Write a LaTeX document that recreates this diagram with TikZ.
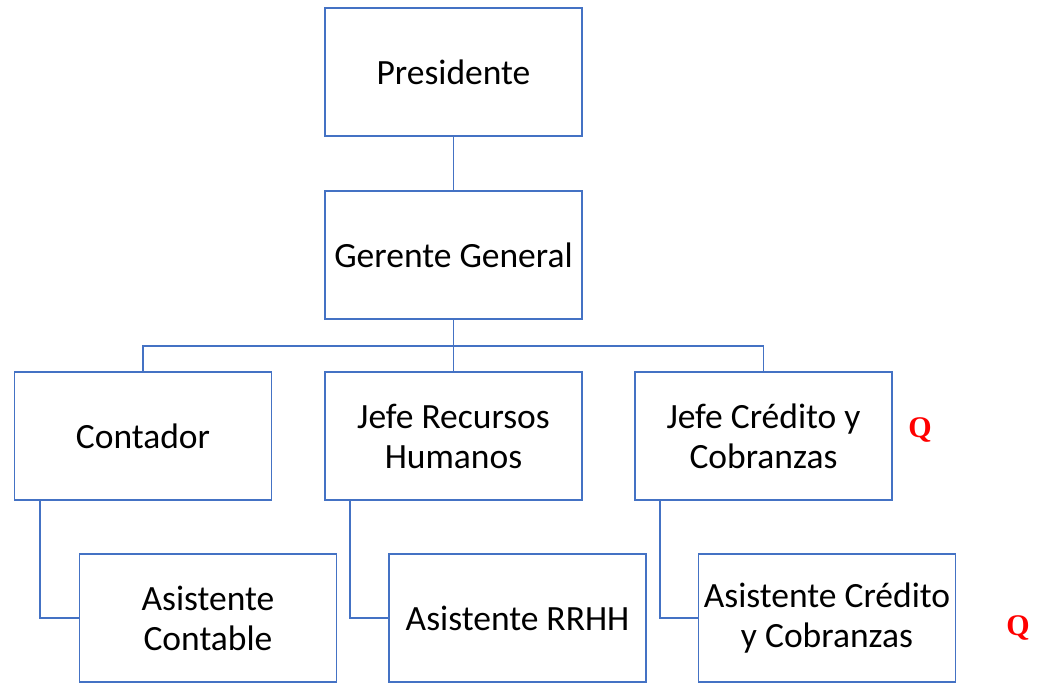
\documentclass[tikz,border=0pt]{standalone}
\usepackage{fontspec}
\setmainfont{Carlito}
\newfontfamily\qfont{Liberation Serif}
\definecolor{lineblue}{HTML}{4472C4}
\begin{document}
\begin{tikzpicture}[x=1pt,y=-1pt,
  box/.style={draw=lineblue, line width=1.6pt, line join=miter, fill=white, minimum width=257pt, minimum height=128pt, inner sep=0pt, align=center, font=\fontsize{35.5}{40}\selectfont, text=black},
  conn/.style={draw=lineblue, line width=1.6pt},
  qlabel/.style={text=red, font=\qfont\bfseries\fontsize{30}{30}\selectfont}]
\useasboundingbox (0,0) rectangle (1039,683);
\node[box] (pres) at (453.5,72) {Presidente};
\node[box] (ger) at (453.5,255) {Gerente General};
\node[box] (cont) at (143,436) {Contador};
\node[box] (rrhh) at (453.5,436) {Jefe Recursos\\Humanos};
\node[box] (cred) at (763.5,436) {Jefe Crédito y\\Cobranzas};
\node[box] (acont) at (208,618) {Asistente\\Contable};
\node[box] (arrhh) at (517.5,618) {Asistente RRHH};
\node[box] (acred) at (827,618) {Asistente Crédito\\y Cobranzas};
\node[qlabel] (q1) at (920,430) {Q};
\node[qlabel] (q2) at (1018,628) {Q};
\coordinate (bus) at (453.5,346);
\draw[conn] (pres.south) -- (ger.north);
\draw[conn] (ger.south) -- (bus);
\draw[conn] (cont.north) |- (bus) -| (cred.north);
\draw[conn] (bus) -- (rrhh.north);
\draw[conn] (cont.south west) ++(26,0) |- (acont.west);
\draw[conn] (rrhh.south west) ++(26,0) |- (arrhh.west);
\draw[conn] (cred.south west) ++(26,0) |- (acred.west);
\end{tikzpicture}
\end{document}
